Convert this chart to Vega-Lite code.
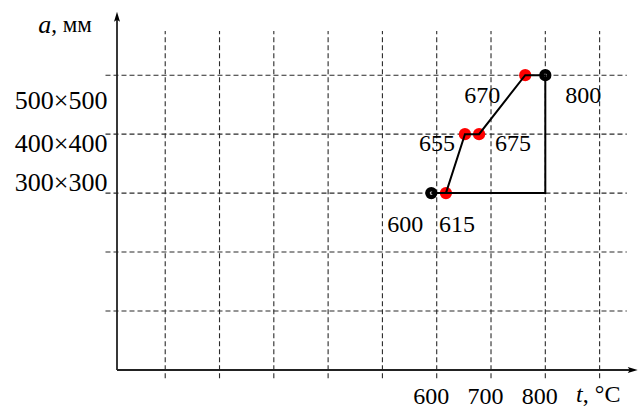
{
  "$schema": "https://vega.github.io/schema/vega-lite/v6.json",
  "width": 521,
  "height": 370,
  "autosize": {"type": "none"},
  "padding": {"left": 117, "top": 0, "right": 0, "bottom": 37},
  "background": "white",
  "config": {"view": {"stroke": null}, "font": "Liberation Serif"},
  "datasets": {
    "pts": [
      {"t": 590, "a": 300, "label": "600", "kind": "black"},
      {"t": 617, "a": 300, "label": "615", "kind": "red"},
      {"t": 652, "a": 400, "label": "655", "kind": "red"},
      {"t": 678, "a": 400, "label": "675", "kind": "red"},
      {"t": 763, "a": 500, "label": "670", "kind": "red"},
      {"t": 800, "a": 500, "label": "800", "kind": "black"}
    ],
    "path": [
      {"o": 1, "t": 617, "a": 300},
      {"o": 2, "t": 652, "a": 400},
      {"o": 3, "t": 678, "a": 400},
      {"o": 4, "t": 763, "a": 500},
      {"o": 5, "t": 800, "a": 500},
      {"o": 6, "t": 800, "a": 300},
      {"o": 7, "t": 590, "a": 300}
    ],
    "vgrid": [{"t": 100}, {"t": 200}, {"t": 300}, {"t": 400}, {"t": 500}, {"t": 600}, {"t": 700}, {"t": 800}, {"t": 900}],
    "hgrid": [{"a": 100}, {"a": 200}, {"a": 300}, {"a": 400}, {"a": 500}]
  },
  "layer": [
    {
      "data": {"name": "vgrid"},
      "mark": {"type": "rule", "color": "#2a2a2a", "strokeWidth": 1.1, "strokeDash": [5, 3]},
      "encoding": {
        "x": {
          "field": "t", "type": "quantitative",
          "scale": {"domain": [11.2, 970.7], "nice": false, "zero": false},
          "axis": {
            "values": [600, 700, 800], "domain": false, "ticks": false, "tickSize": 0, "grid": false, "title": null,
            "labelFont": "Liberation Serif", "labelFontSize": 24, "labelColor": "#000", "labelPadding": 14,
            "labelOffset": -6, "labelFlush": false, "labelOverlap": false
          }
        },
        "y": {
          "datum": -14, "type": "quantitative",
          "scale": {"domain": [0, 627.5], "nice": false, "zero": false},
          "axis": {
            "values": [300, 400, 500], "domain": false, "ticks": false, "tickSize": 0, "grid": false, "title": null,
            "labelExpr": "datum.value + '×' + datum.value",
            "labelFont": "Liberation Serif", "labelFontSize": 26, "labelColor": "#000", "labelPadding": 10,
            "labelFlush": false, "labelOverlap": false,
            "labelOffset": {"condition": [{"test": "datum.value == 500", "value": 25}, {"test": "datum.value == 400", "value": 9}], "value": -11}
          }
        },
        "y2": {"datum": 575}
      }
    },
    {
      "data": {"name": "hgrid"},
      "mark": {"type": "rule", "color": "#2a2a2a", "strokeWidth": 1.1, "strokeDash": [5, 3]},
      "encoding": {
        "y": {"field": "a", "type": "quantitative"},
        "x": {"datum": -10, "type": "quantitative"},
        "x2": {"datum": 950}
      }
    },
    {
      "data": {"values": [{}]},
      "mark": {"type": "rule", "color": "#222", "strokeWidth": 1.8},
      "encoding": {
        "x": {"datum": 11.2, "type": "quantitative"},
        "y": {"datum": 0, "type": "quantitative"},
        "y2": {"datum": 595}
      }
    },
    {
      "data": {"values": [{}]},
      "mark": {"type": "rule", "color": "#222", "strokeWidth": 1.8},
      "encoding": {
        "y": {"datum": 0, "type": "quantitative"},
        "x": {"datum": 11.2, "type": "quantitative"},
        "x2": {"datum": 958}
      }
    },
    {
      "data": {"values": [{}]},
      "mark": {"type": "point", "shape": "M0,-1L0.6,1L0,0.6L-0.6,1Z", "filled": true, "color": "#000", "opacity": 1, "size": 100},
      "encoding": {
        "x": {"datum": 11.2, "type": "quantitative"},
        "y": {"datum": 599, "type": "quantitative"}
      }
    },
    {
      "data": {"values": [{}]},
      "mark": {"type": "point", "shape": "M1,0L-1,0.6L-0.6,0L-1,-0.6Z", "filled": true, "color": "#000", "opacity": 1, "size": 100},
      "encoding": {
        "x": {"datum": 961, "type": "quantitative"},
        "y": {"datum": 0, "type": "quantitative"}
      }
    },
    {
      "data": {"name": "pts"},
      "transform": [{"filter": "datum.kind == 'red'"}],
      "mark": {"type": "circle", "color": "#ff0000", "opacity": 1, "size": 150},
      "encoding": {
        "x": {"field": "t", "type": "quantitative"},
        "y": {"field": "a", "type": "quantitative"}
      }
    },
    {
      "data": {"name": "path"},
      "mark": {"type": "line", "color": "#000", "strokeWidth": 2},
      "encoding": {
        "x": {"field": "t", "type": "quantitative"},
        "y": {"field": "a", "type": "quantitative"},
        "order": {"field": "o"}
      }
    },
    {
      "data": {"name": "pts"},
      "transform": [{"filter": "datum.kind == 'black'"}],
      "mark": {"type": "point", "filled": false, "color": "#000", "strokeWidth": 4.5, "size": 60, "opacity": 1},
      "encoding": {
        "x": {"field": "t", "type": "quantitative"},
        "y": {"field": "a", "type": "quantitative"}
      }
    },
    {
      "data": {"name": "pts"},
      "transform": [{"filter": "datum.label == '600'"}],
      "mark": {"type": "text", "fontSize": 24, "color": "#000", "dx": -26, "dy": 32},
      "encoding": {"x": {"field": "t", "type": "quantitative"}, "y": {"field": "a", "type": "quantitative"}, "text": {"field": "label"}}
    },
    {
      "data": {"name": "pts"},
      "transform": [{"filter": "datum.label == '615'"}],
      "mark": {"type": "text", "fontSize": 24, "color": "#000", "dx": 11, "dy": 32},
      "encoding": {"x": {"field": "t", "type": "quantitative"}, "y": {"field": "a", "type": "quantitative"}, "text": {"field": "label"}}
    },
    {
      "data": {"name": "pts"},
      "transform": [{"filter": "datum.label == '655'"}],
      "mark": {"type": "text", "fontSize": 24, "color": "#000", "dx": -28, "dy": 10},
      "encoding": {"x": {"field": "t", "type": "quantitative"}, "y": {"field": "a", "type": "quantitative"}, "text": {"field": "label"}}
    },
    {
      "data": {"name": "pts"},
      "transform": [{"filter": "datum.label == '675'"}],
      "mark": {"type": "text", "fontSize": 24, "color": "#000", "dx": 34, "dy": 10},
      "encoding": {"x": {"field": "t", "type": "quantitative"}, "y": {"field": "a", "type": "quantitative"}, "text": {"field": "label"}}
    },
    {
      "data": {"name": "pts"},
      "transform": [{"filter": "datum.label == '670'"}],
      "mark": {"type": "text", "fontSize": 24, "color": "#000", "dx": -43, "dy": 21},
      "encoding": {"x": {"field": "t", "type": "quantitative"}, "y": {"field": "a", "type": "quantitative"}, "text": {"field": "label"}}
    },
    {
      "data": {"name": "pts"},
      "transform": [{"filter": "datum.label == '800'"}],
      "mark": {"type": "text", "fontSize": 24, "color": "#000", "dx": 38, "dy": 21},
      "encoding": {"x": {"field": "t", "type": "quantitative"}, "y": {"field": "a", "type": "quantitative"}, "text": {"field": "label"}}
    },
    {
      "data": {"values": [{"s": "a"}]},
      "mark": {"type": "text", "fontSize": 26, "fontStyle": "italic", "color": "#000", "align": "right"},
      "encoding": {"x": {"datum": -110, "type": "quantitative"}, "y": {"datum": 585, "type": "quantitative"}, "text": {"field": "s"}}
    },
    {
      "data": {"values": [{"s": ", мм"}]},
      "mark": {"type": "text", "fontSize": 23, "color": "#000", "align": "left"},
      "encoding": {"x": {"datum": -110, "type": "quantitative"}, "y": {"datum": 585, "type": "quantitative"}, "text": {"field": "s"}}
    },
    {
      "data": {"values": [{"s": "t"}]},
      "mark": {"type": "text", "fontSize": 24, "fontStyle": "italic", "color": "#000", "align": "right"},
      "encoding": {"x": {"datum": 869, "type": "quantitative"}, "y": {"datum": -42, "type": "quantitative"}, "text": {"field": "s"}}
    },
    {
      "data": {"values": [{"s": ", °C"}]},
      "mark": {"type": "text", "fontSize": 24, "color": "#000", "align": "left"},
      "encoding": {"x": {"datum": 869, "type": "quantitative"}, "y": {"datum": -42, "type": "quantitative"}, "text": {"field": "s"}}
    }
  ]
}
